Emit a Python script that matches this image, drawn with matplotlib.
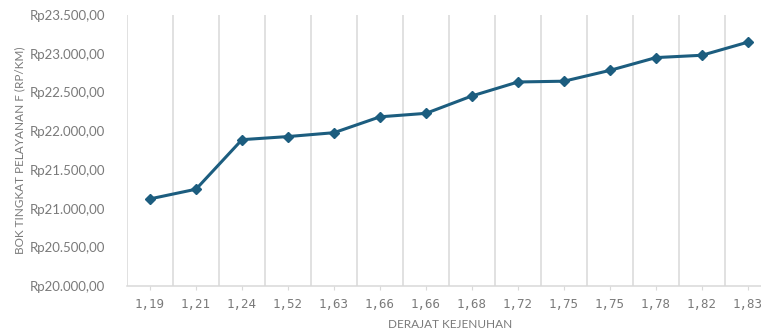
import matplotlib
matplotlib.use("Agg")
from matplotlib import pyplot as plt
from matplotlib.ticker import FuncFormatter, MultipleLocator

# derajat kejenuhan (DS) vs BOK tingkat pelayanan F
ds_labels = ["1,19", "1,21", "1,24", "1,52", "1,63", "1,66", "1,66",
             "1,68", "1,72", "1,75", "1,75", "1,78", "1,82", "1,83"]
bok = [21125, 21250, 21890, 21930, 21980, 22185, 22230,
       22455, 22635, 22645, 22785, 22950, 22980, 23150]

line_color = "#1c5d7f"
text_color = "#7a7a7a"
grid_color = "#d9d9d9"


def rupiah(v, pos):
    s = "{:,.2f}".format(v)
    s = s.replace(",", "X").replace(".", ",").replace("X", ".")
    return "Rp" + s


fig = plt.figure(figsize=(7.61, 3.34), dpi=100)
ax = fig.add_axes([127 / 761, 1 - 286 / 334, 644 / 761, 271 / 334])

x = list(range(len(bok)))
ax.plot(x, bok, color=line_color, lw=2.2, marker="D", ms=5.5,
        markeredgecolor=line_color, zorder=3)

ax.set_xlim(-0.5, len(bok) - 0.5)
ax.set_ylim(20000, 23500)
ax.yaxis.set_major_locator(MultipleLocator(500))
ax.yaxis.set_major_formatter(FuncFormatter(rupiah))

ax.set_xticks(x)
ax.set_xticklabels(ds_labels, family="DejaVu Sans Mono", fontsize=9,
                   color=text_color)
for b in range(len(bok) + 1):
    ax.axvline(b - 0.5, color=grid_color, lw=1.1, zorder=1)

for s in ["top", "right", "left"]:
    ax.spines[s].set_visible(False)
ax.spines["bottom"].set_color(grid_color)
ax.spines["bottom"].set_linewidth(1.1)

ax.tick_params(axis="x", length=3, color=grid_color, pad=6)
ax.tick_params(axis="y", length=0, pad=16, labelcolor=text_color,
               labelsize=9.5)
for lab in ax.get_yticklabels():
    lab.set_family("Lato")

fig.text(20 / 761, 1 - 150 / 334, "BOK TINGKAT PELAYANAN F (RP/KM)",
         rotation=90, ha="center", va="center", fontsize=8.5,
         color=text_color, family="Lato")
fig.text(450 / 761, 1 - 325 / 334, "DERAJAT KEJENUHAN", ha="center",
         va="center", fontsize=8.5, color=text_color, family="Lato")

plt.savefig("out.png", dpi=100)
